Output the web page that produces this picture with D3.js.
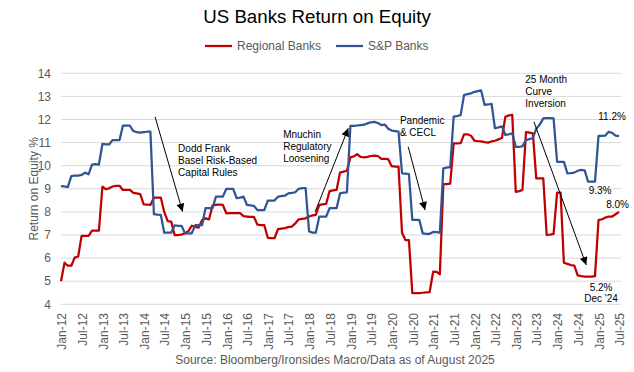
<!doctype html>
<html lang="en">
<head>
<meta charset="utf-8">
<title>US Banks Return on Equity</title>
<script src="https://cdn.jsdelivr.net/npm/d3@7"></script>
<style>
    body { margin: 0; background: #fff; }
    svg { display: block; font-family: "Liberation Sans", Arial, sans-serif; }
</style>
</head>
<body>
<script>
    // monthly series, Jan-12 .. Jul-25
    const startMonth = new Date(2012, 0, 1)

    const regional = [
        5.0, 5.8, 5.67, 5.67, 6.02, 6.07, 6.96, 6.96, 6.96, 7.19, 7.19, 7.19,
        9.09, 8.98, 9.02, 9.1, 9.13, 9.13, 8.95, 8.95, 8.95, 8.82, 8.8, 8.77,
        8.33, 8.32, 8.3, 8.62, 8.62, 8.62, 8.0, 7.6, 7.58, 7.0, 7.0, 7.02,
        7.07, 7.18, 7.4, 7.35, 7.32, 7.65, 7.72, 7.68, 8.28, 8.3, 8.32, 8.3,
        7.94, 7.95, 7.95, 7.95, 7.95, 7.82, 7.8, 7.78, 7.78, 7.45, 7.43, 7.43,
        6.88, 6.86, 6.86, 7.25, 7.28, 7.3, 7.34, 7.36, 7.5, 7.68, 7.7, 7.72,
        7.8, 7.85, 7.87, 8.3, 8.33, 8.35, 8.9, 8.93, 8.95, 9.7, 9.74, 9.78,
        10.36, 10.4, 10.5, 10.38, 10.36, 10.38, 10.42, 10.44, 10.42, 10.3, 10.3, 10.28,
        9.98, 9.96, 9.96, 7.1, 6.78, 6.78, 4.48, 4.48, 4.48, 4.5, 4.52, 4.53,
        5.41, 5.4, 5.3, 9.2, 9.2, 9.22, 10.97, 10.97, 10.98, 11.36, 11.36, 11.3,
        11.08, 11.06, 11.05, 11.02, 11.0, 11.05, 11.08, 11.14, 11.2, 12.12, 12.18, 12.2,
        8.87, 8.9, 8.95, 11.45, 11.43, 11.4, 9.45, 9.45, 9.45, 7.0, 7.02, 7.05,
        8.83, 8.83, 5.8, 5.75, 5.7, 5.68, 5.25, 5.22, 5.2, 5.2, 5.2, 5.22,
        7.65, 7.68, 7.75, 7.8, 7.8, 7.9, 8.0
    ]

    const spBanks = [
        9.12, 9.1, 9.07, 9.55, 9.57, 9.57, 9.6, 9.7, 9.63, 10.05, 10.07, 10.05,
        10.94, 10.92, 10.92, 11.11, 11.11, 11.11, 11.73, 11.73, 11.73, 11.5, 11.45, 11.43,
        11.45, 11.47, 11.47, 7.9, 7.88, 7.87, 7.1, 7.1, 7.1, 7.42, 7.4, 7.4,
        7.07, 7.07, 7.07, 7.43, 7.43, 7.43, 8.16, 8.16, 8.16, 8.66, 8.66, 8.66,
        9.0, 9.0, 9.0, 8.6, 8.62, 8.66, 8.3, 8.28, 8.26, 8.08, 8.08, 8.08,
        8.49, 8.49, 8.49, 8.66, 8.68, 8.7, 8.8, 8.82, 8.85, 9.0, 9.03, 9.03,
        7.15, 7.1, 7.1, 7.8, 7.8, 7.8, 8.16, 8.16, 8.16, 8.8, 8.83, 8.85,
        11.72, 11.72, 11.74, 11.76, 11.78, 11.83, 11.88, 11.9, 11.85, 11.76, 11.78, 11.6,
        11.52, 11.5, 11.48, 9.67, 9.66, 9.64, 7.65, 7.65, 7.65, 7.07, 7.05, 7.05,
        7.13, 7.12, 7.1, 9.89, 9.92, 9.94, 12.12, 12.15, 12.19, 13.06, 13.1, 13.13,
        13.2, 13.23, 13.26, 12.63, 12.65, 12.68, 11.62, 11.66, 11.7, 11.33, 11.36, 11.4,
        10.82, 10.82, 10.84, 11.11, 11.15, 11.2, 11.6, 11.78, 12.05, 12.06, 12.06, 12.05,
        10.17, 10.17, 10.17, 9.67, 9.68, 9.7, 9.78, 9.82, 9.8, 9.31, 9.31, 9.31,
        11.29, 11.29, 11.3, 11.47, 11.42, 11.3, 11.28
    ]

    const seriesNames = ["Regional Banks", "S&P Banks"]
    const seriesColors = ["#C00000", "#2F5597"]
    const yTicks = [4, 5, 6, 7, 8, 9, 10, 11, 12, 13, 14]

    // annotations: [month index, value] for text and arrow ends
    const notes = [
        { lines: ["Dodd Frank", "Basel Risk-Based", "Capital Rules"], at: [34, 10.75], from: [27.3, 12.12], to: [35.3, 8.01] },
        { lines: ["Mnuchin", "Regulatory", "Loosening"], at: [64.5, 11.37], from: [73.8, 8.01], to: [83.4, 11.62] },
        { lines: ["Pandemic", "& CECL"], at: [98.4, 11.94], from: [100.8, 10.82], to: [105.7, 8.08] },
        { lines: ["25 Month", "Curve", "Inversion"], at: [134.8, 13.74], from: [137.3, 11.9], to: [152.5, 5.7] }
    ]
    const valueLabels = [
        { lines: ["11.2%"], at: [160, 12.15] },
        { lines: ["9.3%"], at: [156.5, 8.94] },
        { lines: ["8.0%"], at: [161.6, 8.3] },
        { lines: ["5.2%", "Dec '24"], at: [156.8, 4.73] }
    ]

    const width = 634
    const height = 372
    const month = i => d3.timeMonth.offset(startMonth, i)

    const x = d3.scaleTime()
        .domain([startMonth, month(regional.length - 1)])
        .range([61, 619])
    const xm = i => x(month(0)) + i * (x(month(regional.length - 1)) - x(month(0))) / (regional.length - 1)
    const y = d3.scaleLinear().domain([4, 14]).range([304.3, 73.3])

    const svg = d3.select("body").append("svg")
        .attr("width", width)
        .attr("height", height)

    svg.append("defs").append("marker")
        .attr("id", "arrow")
        .attr("viewBox", "0 0 10 10")
        .attr("refX", 10)
        .attr("refY", 5)
        .attr("markerUnits", "userSpaceOnUse")
        .attr("markerWidth", 9)
        .attr("markerHeight", 8)
        .attr("orient", "auto")
        .append("path")
        .attr("d", "M0,0L10,5L0,10z")
        .attr("fill", "#000")

    // title
    svg.append("text")
        .attr("x", 317)
        .attr("y", 23)
        .attr("text-anchor", "middle")
        .attr("font-size", 18.7)
        .attr("fill", "#000")
        .text("US Banks Return on Equity")

    // legend
    const legend = svg.append("g").attr("font-size", 12).attr("fill", "#595959")
    const legendX = [205, 336]
    seriesNames.forEach((name, i) => {
        legend.append("line")
            .attr("x1", legendX[i]).attr("x2", legendX[i] + 27)
            .attr("y1", 46).attr("y2", 46)
            .attr("stroke", seriesColors[i])
            .attr("stroke-width", 2.25)
        legend.append("text")
            .attr("x", legendX[i] + 32)
            .attr("y", 46)
            .attr("dy", "0.35em")
            .text(name)
    })

    // grid + y axis
    svg.append("g")
        .selectAll("line")
        .data(yTicks)
        .join("line")
        .attr("x1", 61).attr("x2", 621)
        .attr("y1", d => y(d)).attr("y2", d => y(d))
        .attr("stroke", "#d9d9d9")
        .attr("stroke-width", 1)

    svg.append("g")
        .attr("font-size", 12)
        .attr("fill", "#595959")
        .attr("text-anchor", "end")
        .selectAll("text")
        .data(yTicks)
        .join("text")
        .attr("x", 51)
        .attr("y", d => y(d))
        .attr("dy", "0.35em")
        .text(d => d)

    svg.append("text")
        .attr("transform", `translate(34,${y(9)}) rotate(-90)`)
        .attr("text-anchor", "middle")
        .attr("dy", "0.35em")
        .attr("font-size", 12)
        .attr("fill", "#595959")
        .text("Return on Equity %")

    // x axis labels
    const xTicks = d3.timeMonth.every(6).range(startMonth, d3.timeMonth.offset(month(regional.length - 1), 1))
    svg.append("g")
        .attr("font-size", 12)
        .attr("fill", "#595959")
        .selectAll("text")
        .data(xTicks)
        .join("text")
        .attr("transform", d => `translate(${x(d) + 1},313) rotate(-90)`)
        .attr("text-anchor", "end")
        .attr("dy", "0.35em")
        .text(d3.timeFormat("%b-%y"))

    // series
    const line = d3.line()
        .x((d, i) => x(month(i)))
        .y(d => y(d))

    const series = [regional, spBanks]
    series.forEach((values, i) => {
        svg.append("path")
            .datum(values)
            .attr("fill", "none")
            .attr("stroke", seriesColors[i])
            .attr("stroke-width", 2.25)
            .attr("stroke-linejoin", "round")
            .attr("d", line)
    })

    // annotations
    const ann = svg.append("g").attr("font-size", 10).attr("fill", "#000")
    notes.forEach(n => {
        const t = ann.append("text")
            .attr("x", xm(n.at[0]))
            .attr("y", y(n.at[1]))
        n.lines.forEach((l, j) => {
            t.append("tspan")
                .attr("x", xm(n.at[0]))
                .attr("dy", j === 0 ? "0.35em" : 12)
                .text(l)
        })
        ann.append("line")
            .attr("x1", xm(n.from[0])).attr("y1", y(n.from[1]))
            .attr("x2", xm(n.to[0])).attr("y2", y(n.to[1]))
            .attr("stroke", "#000")
            .attr("stroke-width", 1)
            .attr("marker-end", "url(#arrow)")
    })

    valueLabels.forEach(n => {
        const t = ann.append("text")
            .attr("text-anchor", "middle")
            .attr("y", y(n.at[1]))
        n.lines.forEach((l, j) => {
            t.append("tspan")
                .attr("x", xm(n.at[0]))
                .attr("dy", j === 0 ? "0.35em" : 11.5)
                .text(l)
        })
    })

    // source
    svg.append("text")
        .attr("x", 335)
        .attr("y", 360)
        .attr("dy", "0.35em")
        .attr("text-anchor", "middle")
        .attr("font-size", 12)
        .attr("fill", "#595959")
        .text("Source: Bloomberg/Ironsides Macro/Data as of August 2025")
</script>
</body>
</html>
